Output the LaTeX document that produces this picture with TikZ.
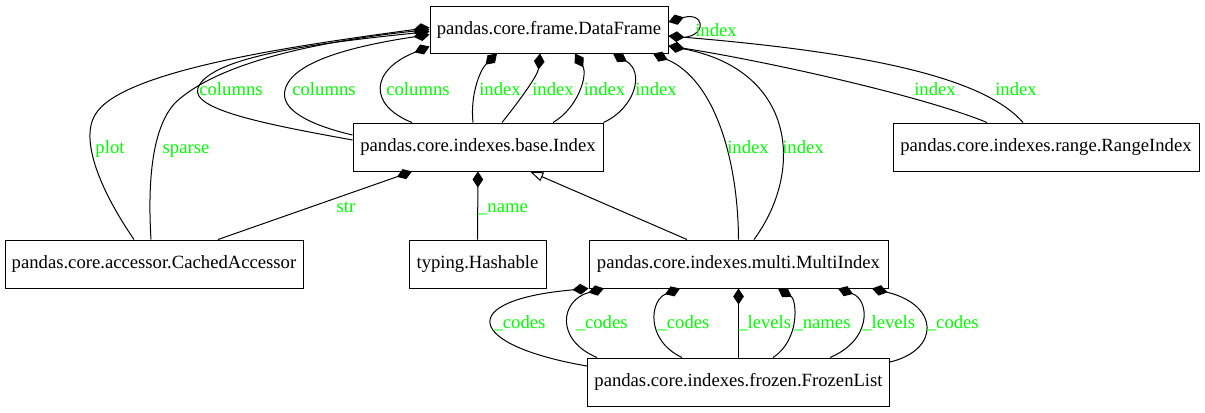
\documentclass[tikz,border=0pt]{standalone}
\usepackage{fontspec}
\setmainfont{Liberation Serif}
\usetikzlibrary{arrows.meta,calc}
\definecolor{lblgreen}{RGB}{0,255,0}

\tikzset{
	cls/.style={draw, line width=0.75pt, minimum height=36pt, inner sep=0pt, font=\fontsize{14}{16}\selectfont},
	lbl/.style={text=lblgreen, anchor=base, inner sep=0pt, font=\fontsize{14}{16}\selectfont},
	comp/.style={-{Diamond[length=12pt,width=8pt]}, line width=0.75pt},
	compstart/.style={{Diamond[length=12pt,width=8pt]}-, line width=0.75pt},
	inherit/.style={-{Triangle[open,length=10pt,width=7pt]}, line width=0.75pt}
}

\begin{document}
\begin{tikzpicture}[x=0.75pt, y=-0.75pt]
	\useasboundingbox (0,0) rectangle (1205,412);

	\node[cls, minimum width=178.5pt, minimum height=35.25pt](df) at (549,29.5) {pandas.core.frame.DataFrame};
	\node[cls, minimum width=187.5pt](base) at (478,147) {pandas.core.indexes.base.Index};
	\node[cls, minimum width=229.5pt](range) at (1046,147) {pandas.core.indexes.range.RangeIndex};
	\node[cls, minimum width=223.5pt](accessor) at (154,264) {pandas.core.accessor.CachedAccessor};
	\node[cls, minimum width=102.75pt](hashable) at (477.5,264) {typing.Hashable};
	\node[cls, minimum width=224.25pt](multi) at (738.5,264) {pandas.core.indexes.multi.MultiIndex};
	\node[cls, minimum width=226.5pt](frozen) at (738.5,382) {pandas.core.indexes.frozen.FrozenList};

	\draw[comp] ($(accessor.north)+(-20,0)$) .. controls (100,190) and (80,140) .. (95,115) .. controls (120,70) and (300,45) .. ($(df.west)+(0,-2)$) node[lbl] at (110,153.5) {plot};
	\draw[comp] ($(accessor.north)+(-3,0)$) .. controls (148,190) and (150,130) .. (175,103) .. controls (220,60) and (330,40) .. (df.west) node[lbl] at (186,153.5) {sparse};
	\draw[comp] ($(base.west)+(0,-7)$) .. controls (270,125) and (190,110) .. (198,88) .. controls (210,55) and (330,42) .. ($(df.west)+(0,2)$) node[lbl] at (231,95) {columns};
	\draw[comp] ($(base.west)+(0,-12)$) .. controls (310,125) and (280,110) .. (285,90) .. controls (292,60) and (360,45) .. ($(df.west)+(0,5)$) node[lbl] at (324,95) {columns};
	\draw[comp] ($(base.north)+(-66,0)$) .. controls (368,105) and (370,70) .. ($(df.west)+(0,17)$) node[lbl] at (418,95) {columns};
	\draw[comp] ($(base.north)+(-5,0)$) .. controls (470,95) and (480,70) .. ($(df.south)+(-52,0)$) node[lbl] at (500,95) {index};
	\draw[comp] ($(base.north)+(24,0)$) .. controls (520,100) and (538,75) .. ($(df.south)+(-9,0)$) node[lbl] at (553,95) {index};
	\draw[comp] ($(base.north)+(75,0)$) .. controls (578,108) and (588,75) .. ($(df.south)+(26,0)$) node[lbl] at (604.5,95) {index};
	\draw[comp] (base.north east) .. controls (635,108) and (645,72) .. ($(df.south)+(64,0)$) node[lbl] at (656,95) {index};
	\draw[comp] (multi.north) .. controls (738,160) and (715,80) .. ($(df.south)+(104,0)$) node[lbl] at (748,153.5) {index};
	\draw[comp] ($(multi.north)+(15.5,0)$) .. controls (805,170) and (795,70) .. ($(df.east)+(0,16.5)$) node[lbl] at (803,153.5) {index};
	\draw[comp] ($(range.north)+(-59,0)$) .. controls (920,95) and (760,60) .. ($(df.east)+(0,16.5)$) node[lbl] at (935,95) {index};
	\draw[comp] ($(range.north)+(-23,0)$) .. controls (990,85) and (900,55) .. ($(df.east)+(0,6.5)$) node[lbl] at (1016,95) {index};
	\draw[compstart] ($(df.east)+(0,-7.5)$) .. controls (708,10) and (708,45) .. ($(df.east)+(0,6.5)$) node[lbl] at (716,36) {index};

	\draw[comp] ($(accessor.north)+(64,0)$) -- ($(base.south)+(-66,0)$) node[lbl] at (346,212) {str};
	\draw[comp] (hashable) -- (base) node[lbl] at (503,212.5) {\_name};
	\draw[inherit] ($(multi.north)+(-51.5,0)$) -- ($(base.south)+(52,0)$);

	\draw[comp] ($(frozen.west)+(0,-16)$) .. controls (465,345) and (455,300) .. (multi.south west) node[lbl] at (519.5,328.5) {\_codes};
	\draw[comp] ($(frozen.north)+(-141.5,0)$) .. controls (555,340) and (560,300) .. ($(multi.south)+(-134.5,0)$) node[lbl] at (601.7,328.5) {\_codes};
	\draw[comp] ($(frozen.north)+(-56.5,0)$) .. controls (645,340) and (650,300) .. ($(multi.south)+(-58.5,0)$) node[lbl] at (683.5,328.5) {\_codes};
	\draw[comp] (frozen) -- (multi) node[lbl] at (764.7,328.5) {\_levels};
	\draw[comp] ($(frozen.north)+(34.5,0)$) .. controls (800,340) and (797,300) .. ($(multi.south)+(39.5,0)$) node[lbl] at (822,328.5) {\_names};
	\draw[comp] ($(frozen.north)+(91.5,0)$) .. controls (872,340) and (870,300) .. ($(multi.south)+(99.5,0)$) node[lbl] at (888.7,328.5) {\_levels};
	\draw[comp] ($(frozen.east)+(0,-20)$) .. controls (940,350) and (940,305) .. ($(multi.south)+(133.5,0)$) node[lbl] at (952.8,328.5) {\_codes};
\end{tikzpicture}
\end{document}
